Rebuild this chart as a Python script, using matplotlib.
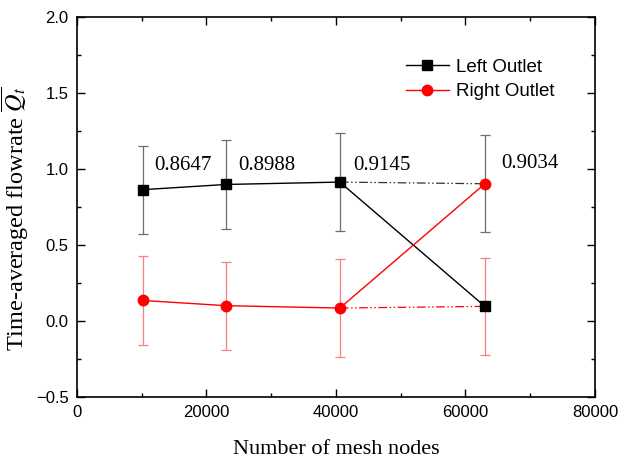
import numpy as np
import matplotlib
matplotlib.use("Agg")
import matplotlib.pyplot as plt
from matplotlib.ticker import MultipleLocator

# data
mesh_nodes = [10200, 23000, 40600, 63000]
left_q = [0.8647, 0.8988, 0.9145, 0.0966]
right_q = [0.1353, 0.1012, 0.0855, 0.9034]
q_err = [0.29, 0.29, 0.32, 0.32]
labels = ["0.8647", "0.8988", "0.9145", "0.9034"]

plt.rcParams["mathtext.fontset"] = "stix"
serif = "Liberation Serif"
sans = "Liberation Sans"

fig = plt.figure(figsize=(6.21, 4.63), dpi=100)
ax = fig.add_axes([0.124, 0.1425, 0.834, 0.8205])

x = np.array(mesh_nodes)
left = np.array(left_q)
right = np.array(right_q)
hi = np.maximum(left, right)
lo = np.minimum(left, right)

# error bars belong to the upper / lower branch
ax.errorbar(x, hi, yerr=q_err, fmt="none", ecolor="#6e6e6e", elinewidth=0.9,
            capsize=3.5, capthick=0.9, zorder=2)
ax.errorbar(x, lo, yerr=q_err, fmt="none", ecolor="#ff7f7f", elinewidth=0.9,
            capsize=3.5, capthick=0.9, zorder=2)

# dash-dot continuation of the branches
dd = (0, (7, 2, 1.2, 2, 1.2, 2))
ax.plot(x[2:], hi[2:], color="#333333", lw=0.9, linestyle=dd, zorder=3)
ax.plot(x[2:], lo[2:], color="red", lw=0.9, linestyle=dd, zorder=3)

ax.plot(x, left, color="black", lw=1.0, marker="s", markersize=6.5,
        label="Left Outlet", zorder=4)
ax.plot(x, right, color="red", lw=1.0, marker="o", markersize=7.5,
        label="Right Outlet", zorder=4)

# value labels
for xi, lab, dx, yy in zip(x, labels, [1700, 1860, 2000, 2600], [1.026, 1.026, 1.026, 1.04]):
    ax.text(xi + dx, yy, lab, fontsize=15, family=serif, ha="left", va="center")

ax.set_xlim(0, 80000)
ax.set_ylim(-0.5, 2.0)
ax.xaxis.set_major_locator(MultipleLocator(20000))
ax.xaxis.set_minor_locator(MultipleLocator(10000))
ax.yaxis.set_major_locator(MultipleLocator(0.5))
ax.yaxis.set_minor_locator(MultipleLocator(0.25))
ax.tick_params(which="both", direction="in", top=True, right=True, width=1.0)
ax.tick_params(which="major", length=6, pad=6, labelsize=12)
ax.tick_params(which="minor", length=3)
for lab in ax.get_xticklabels() + ax.get_yticklabels():
    lab.set_family(sans)
for sp in ax.spines.values():
    sp.set_linewidth(1.2)

ax.set_xlabel("Number of mesh nodes", fontsize=16, family=serif)
ax.xaxis.set_label_coords(0.5, -0.112)
ax.set_ylabel(r"Time-averaged flowrate $\overline{Q_t}$", fontsize=17.5,
              family=serif)
ax.yaxis.set_label_coords(-0.088, 0.47)

leg = ax.legend(loc="upper right", bbox_to_anchor=(0.955, 0.935), frameon=False,
                prop={"family": sans, "size": 13.5}, handlelength=2.3,
                handletextpad=0.4, labelspacing=0.4)

fig.savefig("out.png", dpi=100)
